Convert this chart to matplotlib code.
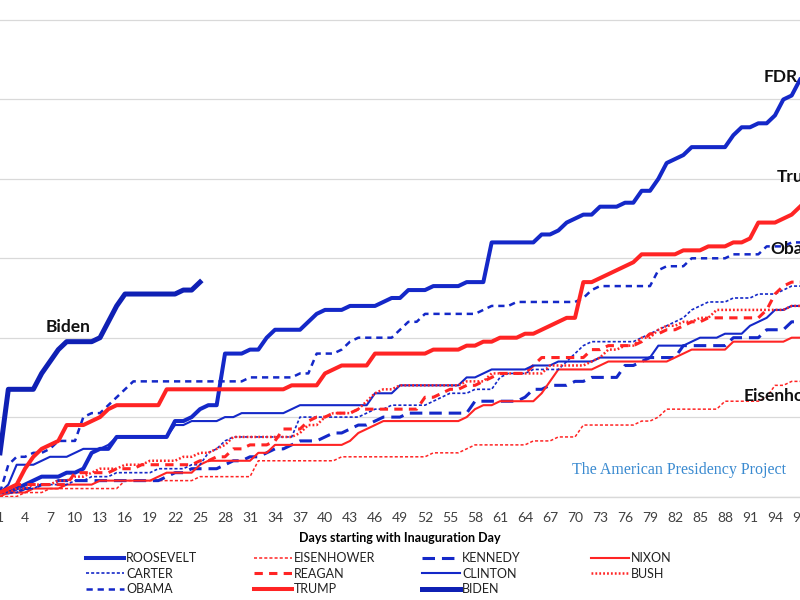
import matplotlib
matplotlib.use('Agg')
import matplotlib.pyplot as plt
import numpy as np

plt.rcParams['font.family'] = ['Lato', 'DejaVu Sans']
plt.rcParams['lines.scale_dashes'] = False

# cumulative count on the days where it changed (holds until next change)
roosevelt = {1: 1, 3: 2, 4: 3, 5: 4, 6: 5, 9: 6, 11: 7, 12: 11, 13: 12, 15: 15, 22: 19, 24: 20,
             25: 22, 26: 23, 28: 36, 31: 37, 33: 40, 34: 42, 38: 44, 39: 46, 40: 47, 43: 48,
             47: 49, 48: 50, 50: 52, 53: 53, 57: 54, 60: 64, 66: 66, 68: 67, 69: 69, 70: 70,
             71: 71, 73: 73, 76: 74, 78: 77, 80: 80, 81: 84, 82: 85, 83: 86, 84: 88, 89: 91,
             90: 93, 92: 94, 94: 96, 95: 100, 96: 101, 97: 105}
eisenhower = {4: 1, 7: 2, 16: 4, 25: 5, 32: 9, 42: 10, 53: 11, 57: 12, 58: 13, 65: 14, 68: 15,
              71: 18, 78: 19, 80: 20, 81: 22, 88: 24, 93: 25, 94: 28, 96: 29}
kennedy = {1: 1, 4: 2, 6: 3, 8: 4, 21: 5, 22: 6, 24: 7, 28: 8, 29: 9, 31: 10, 33: 11, 34: 12,
           36: 13, 37: 14, 40: 15, 41: 16, 43: 17, 44: 18, 46: 19, 47: 20, 50: 21, 58: 24,
           64: 25, 65: 27, 67: 28, 70: 29, 72: 30, 76: 33, 78: 34, 79: 35, 83: 38, 89: 40,
           93: 42, 96: 44}
nixon = {2: 1, 5: 2, 9: 3, 13: 4, 20: 5, 21: 6, 25: 8, 26: 9, 32: 11, 34: 13, 43: 14, 44: 16,
         45: 17, 46: 18, 47: 19, 57: 20, 58: 22, 59: 23, 61: 24, 66: 26, 67: 29, 68: 32, 73: 33,
         74: 34, 82: 35, 83: 36, 84: 37, 89: 39, 96: 40}
carter = {1: 1, 4: 2, 6: 3, 10: 4, 12: 5, 15: 6, 20: 7, 24: 8, 26: 11, 27: 12, 28: 14, 29: 15,
          37: 20, 45: 21, 46: 22, 48: 23, 53: 24, 54: 25, 55: 26, 58: 27, 61: 30, 62: 31,
          65: 32, 69: 34, 70: 36, 71: 38, 72: 39, 78: 40, 79: 41, 80: 42, 81: 43, 82: 44,
          83: 45, 84: 47, 85: 48, 86: 49, 89: 50, 92: 51, 95: 52, 96: 53}
reagan = {1: 1, 2: 2, 3: 3, 10: 6, 15: 7, 18: 8, 25: 9, 27: 10, 29: 12, 31: 13, 34: 14, 35: 17,
          38: 19, 39: 20, 41: 21, 44: 22, 52: 25, 54: 26, 55: 27, 57: 28, 59: 29, 60: 30,
          61: 31, 65: 33, 66: 35, 72: 37, 74: 38, 78: 39, 79: 41, 81: 42, 83: 43, 84: 44,
          86: 45, 93: 47, 94: 51, 95: 53, 96: 54}
clinton = {1: 1, 2: 3, 3: 8, 6: 9, 7: 10, 10: 11, 11: 12, 14: 13, 15: 15, 22: 18, 24: 19,
           28: 20, 30: 21, 36: 22, 37: 23, 46: 26, 49: 28, 57: 30, 59: 31, 60: 32, 65: 33,
           68: 34, 73: 35, 80: 38, 84: 39, 85: 40, 88: 41, 91: 43, 92: 44, 93: 45, 94: 47, 96: 48}
bush = {1: 1, 3: 2, 5: 3, 8: 4, 10: 5, 12: 6, 13: 7, 16: 8, 19: 9, 23: 10, 25: 11, 27: 12,
        28: 13, 29: 15, 37: 16, 38: 18, 40: 20, 41: 21, 44: 22, 45: 24, 46: 26, 47: 27, 49: 28,
        57: 29, 60: 31, 67: 33, 72: 34, 73: 35, 74: 37, 76: 38, 78: 40, 80: 42, 81: 43, 83: 44,
        85: 45, 87: 47, 96: 48}
obama = {1: 1, 2: 8, 3: 10, 5: 11, 7: 12, 8: 14, 11: 20, 12: 21, 14: 23, 15: 25, 16: 27, 17: 29,
         31: 30, 37: 31, 39: 36, 42: 37, 43: 39, 44: 40, 49: 42, 50: 44, 52: 46, 59: 47, 60: 48,
         63: 49, 71: 50, 72: 52, 73: 53, 80: 57, 81: 58, 84: 60, 89: 61, 93: 63, 96: 64}
trump = {1: 1, 2: 2, 3: 3, 4: 7, 5: 10, 6: 12, 7: 13, 8: 14, 9: 18, 12: 19, 13: 20, 14: 22,
         15: 23, 21: 27, 36: 28, 40: 31, 41: 32, 42: 33, 46: 36, 53: 37, 57: 38, 59: 39, 61: 40,
         64: 41, 66: 42, 67: 43, 68: 44, 69: 45, 71: 54, 73: 55, 74: 56, 75: 57, 76: 58, 77: 59,
         78: 61, 83: 62, 86: 63, 89: 64, 91: 65, 92: 69, 95: 70, 96: 71, 97: 73}
biden = {1: 11, 2: 27, 6: 31, 7: 34, 8: 37, 9: 39, 13: 40, 14: 44, 15: 48, 16: 51, 23: 52, 25: 54}

tick_days = list(range(1, 98, 3))


def expand(changes, last):
    vals = np.zeros(last)
    for d, v in sorted(changes.items()):
        vals[d - 1:] = v
    return np.arange(1, last + 1), vals


BLUE = '#1428c8'
RED = '#ff2424'

# label, data, last day, colour, width, dashes (None = solid)
series = [
    ('ROOSEVELT', roosevelt, 97, BLUE, 2.9, None),
    ('EISENHOWER', eisenhower, 97, RED, 1.1, (2.2, 1.5)),
    ('KENNEDY', kennedy, 97, BLUE, 2.2, (9, 5)),
    ('NIXON', nixon, 97, RED, 1.5, None),
    ('CARTER', carter, 97, BLUE, 1.2, (2.2, 1.5)),
    ('REAGAN', reagan, 97, RED, 2.2, (6, 4.5)),
    ('CLINTON', clinton, 97, BLUE, 1.5, None),
    ('BUSH', bush, 97, RED, 1.8, (1.3, 1.5)),
    ('OBAMA', obama, 97, BLUE, 1.8, (4.5, 3.5)),
    ('TRUMP', trump, 97, RED, 2.9, None),
    ('BIDEN', biden, 25, '#0f20b4', 3.6, None),
]

fig = plt.figure(figsize=(8, 6), dpi=100)
ax = fig.add_axes([0, 1 - 496.5 / 600, 1, 496.5 / 600])
ax.set_xlim(1.247, 96.78)
ax.set_ylim(0, 125.06)

handles = {}
for i, (name, data, last, col, lw, dash) in enumerate(series):
    x, y = expand(data, last)
    line, = ax.plot(x, y, color=col, lw=lw, zorder=3 + i, label=name,
                    solid_joinstyle='round', dash_joinstyle='round')
    if dash is not None:
        line.set_dashes(dash)
    handles[name] = line

ax.set_yticks(range(0, 121, 20))
ax.yaxis.grid(True, color='#d9d9d9', lw=0.9, zorder=0)
ax.tick_params(axis='y', left=False, labelleft=False)
for s in ['top', 'left', 'right']:
    ax.spines[s].set_visible(False)
ax.spines['bottom'].set_color('#d9d9d9')
ax.spines['bottom'].set_linewidth(1.0)

ax.set_xticks(tick_days)
ax.set_xticklabels([str(d) for d in tick_days])
ax.tick_params(axis='x', length=0, pad=11, labelsize=10, labelcolor='#404040')
ax.set_xlabel('Days starting with Inauguration Day', fontsize=9, fontweight='bold', labelpad=6)

# labels next to the lines (the originals run off the right edge)
lab = dict(fontsize=12.5, fontweight='bold', color='#111111', va='center', zorder=20)
ax.text(9.2, 42.7, 'Biden', ha='center', **lab)
ax.text(92.6, 105.7, 'FDR', ha='left', **lab)
ax.text(94.2, 80.5, 'Trump', ha='left', **lab)
ax.text(93.5, 62.3, 'Obama', ha='left', **lab)
ax.text(90.2, 25.3, 'Eisenhower', ha='left', **lab)

fig.text(572 / 800, 1 - 470 / 600, 'The American Presidency Project', fontsize=11.5,
         family='Liberation Serif', color='#3a8ad0', va='center', ha='left')

# legend: four columns, filled across the rows like the original
columns = [['ROOSEVELT', 'CARTER', 'OBAMA'], ['EISENHOWER', 'REAGAN', 'TRUMP'],
           ['KENNEDY', 'CLINTON', 'BIDEN'], ['NIXON', 'BUSH']]
col_x = [86, 254, 422, 591]
for cx, names in zip(col_x, columns):
    leg = fig.legend([handles[n] for n in names], names, loc='upper left',
                     bbox_to_anchor=(cx / 800, 1 - 552 / 600), frameon=False,
                     fontsize=9, handlelength=3.0, handletextpad=0.2,
                     labelspacing=0.28, borderpad=0, borderaxespad=0)
    for t in leg.get_texts():
        t.set_color('#222222')

fig.savefig('out.png', dpi=100)
